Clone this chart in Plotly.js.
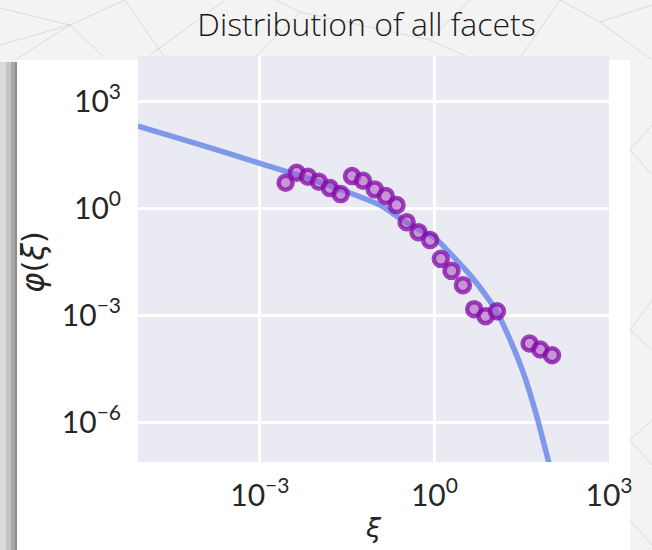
<!DOCTYPE html>
<html><head><meta charset="utf-8">
<script src="https://cdn.plot.ly/plotly-3.0.1.min.js"></script>
<style>html,body{margin:0;padding:0;background:#f3f3f3}</style>
</head><body><div id="chart" style="width:652px;height:550px"></div>
<script>
// Binned data points (xi, phi)
const pointXi = [2.767e-3, 4.285e-3, 6.699e-3, 0.01035, 0.01603, 0.02449, 0.03828, 0.05929,
  0.09419, 0.1459, 0.2234, 0.3327, 0.5309, 0.8433, 1.288, 1.963, 3.083, 4.819, 7.551, 11.86,
  43.15, 65.92, 105.0];
const pointPhi = [5.200, 9.931, 7.674, 5.546, 3.690, 2.506, 8.017, 5.916, 3.396, 2.203, 1.230,
  0.4093, 0.2143, 0.1279, 0.03811, 0.01754, 6.966e-3, 1.476e-3, 9.376e-4, 1.294e-3,
  1.603e-4, 1.089e-4, 7.516e-5];
// Fitted curve
const fitXi = [8.04e-6, 9.27e-5, 1.005e-3, 0.01079, 0.1161, 0.2570, 0.5675, 1.028, 2.123, 4.111,
  7.980, 11.86, 20.09, 34.04, 57.81, 91.62, 104.7];
const fitPhi = [203.7, 61.5, 18.24, 5.445, 1.230, 0.520, 0.2443, 0.1455, 0.04345, 0.01330,
  3.266e-3, 1.213e-3, 1.986e-4, 2.301e-5, 1.390e-6, 7.93e-8, 4.17e-8];
const xTickVals = [1e-3, 1, 1e3];
const xTickText = ['10<sup>−3</sup>', '10<sup>0</sup>', '10<sup>3</sup>'];
const yTickVals = [1e3, 1, 1e-3, 1e-6];
const yTickText = ['10<sup>3</sup>', '10<sup>0</sup>', '10<sup>−3</sup>', '10<sup>−6</sup>'];
const titleText = 'Distribution of all facets';
const xTitle = '<i>ξ</i>';
const yTitle = '<i>φ</i>(<i>ξ</i>)';

// layout geometry (pixels)
const W = 652, H = 550, L = 138, R = 43, T = 56, B = 88;
const pw = W - L - R, ph = H - T - B;
const px = v => (v - L) / pw;
const py = v => (H - B - v) / ph;

function rect(x0, y0, x1, y1, color) {
  return {type: 'rect', xref: 'paper', yref: 'paper', layer: 'below',
    x0: px(x0), x1: px(x1), y0: py(y1), y1: py(y0), fillcolor: color, line: {width: 0}};
}
function seg(x0, y0, x1, y1) {
  return {type: 'line', xref: 'paper', yref: 'paper', layer: 'below',
    x0: px(x0), x1: px(x1), y0: py(y0), y1: py(y1), line: {color: 'rgba(0,0,0,0.10)', width: 1}};
}
const mesh = [
  [0, 8, 70, 25], [70, 25, 125, 0], [70, 25, 105, 58], [70, 25, 15, 60], [0, 45, 70, 25],
  [150, 55, 225, 0], [125, 0, 165, 58], [255, 58, 300, 12], [300, 12, 430, 40], [300, 12, 275, 0],
  [430, 40, 470, 58], [430, 40, 470, 0], [560, 0, 520, 58], [600, 22, 652, 5], [600, 22, 652, 60],
  [600, 22, 560, 0], [630, 150, 652, 125], [630, 150, 652, 175], [630, 330, 652, 300],
  [630, 330, 652, 350], [630, 440, 652, 420], [630, 440, 652, 465], [630, 520, 652, 545]
];
const shapes = mesh.map(m => seg(...m));
shapes.push(rect(16, 60, 630, 550, '#ffffff'));
shapes.push(rect(0, 62, 6, 550, '#dadada'));
shapes.push(rect(6, 62, 11, 550, '#c4c4c4'));
shapes.push(rect(11, 62, 15, 550, '#a8a8a8'));
shapes.push(rect(15, 62, 17, 550, '#8c8c8c'));
shapes.push(rect(L, T, W - R, H - B, '#EAEAF2'));

const traces = [
  {x: fitXi, y: fitPhi, type: 'scatter', mode: 'lines', line: {color: 'rgba(95,128,232,0.78)', width: 5.5, shape: 'spline', smoothing: 0.6}, hoverinfo: 'skip'},
  {x: pointXi, y: pointPhi, type: 'scatter', mode: 'markers',
    marker: {symbol: 'circle', size: 14, color: 'rgba(175,90,195,0.6)', line: {color: 'rgba(130,10,165,0.75)', width: 4.5}}}
];

const tickFont = {family: 'Lato, "DejaVu Sans", sans-serif', size: 30, color: '#262626'};
const layout = {
  width: W, height: H, margin: {l: L, r: R, t: T, b: B},
  paper_bgcolor: '#f3f3f3', plot_bgcolor: '#EAEAF2', showlegend: false,
  title: {text: titleText, xref: 'container', yref: 'container', x: 366.5 / W, y: 1 - 25 / H,
    xanchor: 'center', yanchor: 'middle',
    font: {family: '"Open Sans", Roboto, sans-serif', weight: 300, size: 32, color: '#1a1a1a'}},
  xaxis: {type: 'log', range: [-5.095, 3.0], tickmode: 'array', tickvals: xTickVals, ticktext: xTickText,
    showgrid: true, gridcolor: '#ffffff', gridwidth: 3, zeroline: false, showline: false,
    ticks: '', ticklabelstandoff: 13, tickfont: tickFont, fixedrange: true},
  yaxis: {type: 'log', range: [-7.121, 4.275], tickmode: 'array', tickvals: yTickVals, ticktext: yTickText,
    showgrid: true, gridcolor: '#ffffff', gridwidth: 3, zeroline: false, showline: false,
    ticks: '', ticklabelstandoff: 16, tickfont: tickFont, fixedrange: true},
  shapes: shapes,
  annotations: [
    {text: xTitle, xref: 'paper', yref: 'paper', x: 0.5, y: py(527), xanchor: 'center', yanchor: 'middle',
      showarrow: false, font: {family: '"DejaVu Sans", sans-serif', size: 27, color: '#262626'}},
    {text: yTitle, xref: 'paper', yref: 'paper', x: px(33), y: py(262), xanchor: 'center', yanchor: 'middle',
      textangle: -90, showarrow: false, font: {family: '"DejaVu Sans", sans-serif', size: 31, color: '#262626'}}
  ]
};
Plotly.newPlot('chart', traces, layout, {displayModeBar: false, staticPlot: true});
</script></body></html>
